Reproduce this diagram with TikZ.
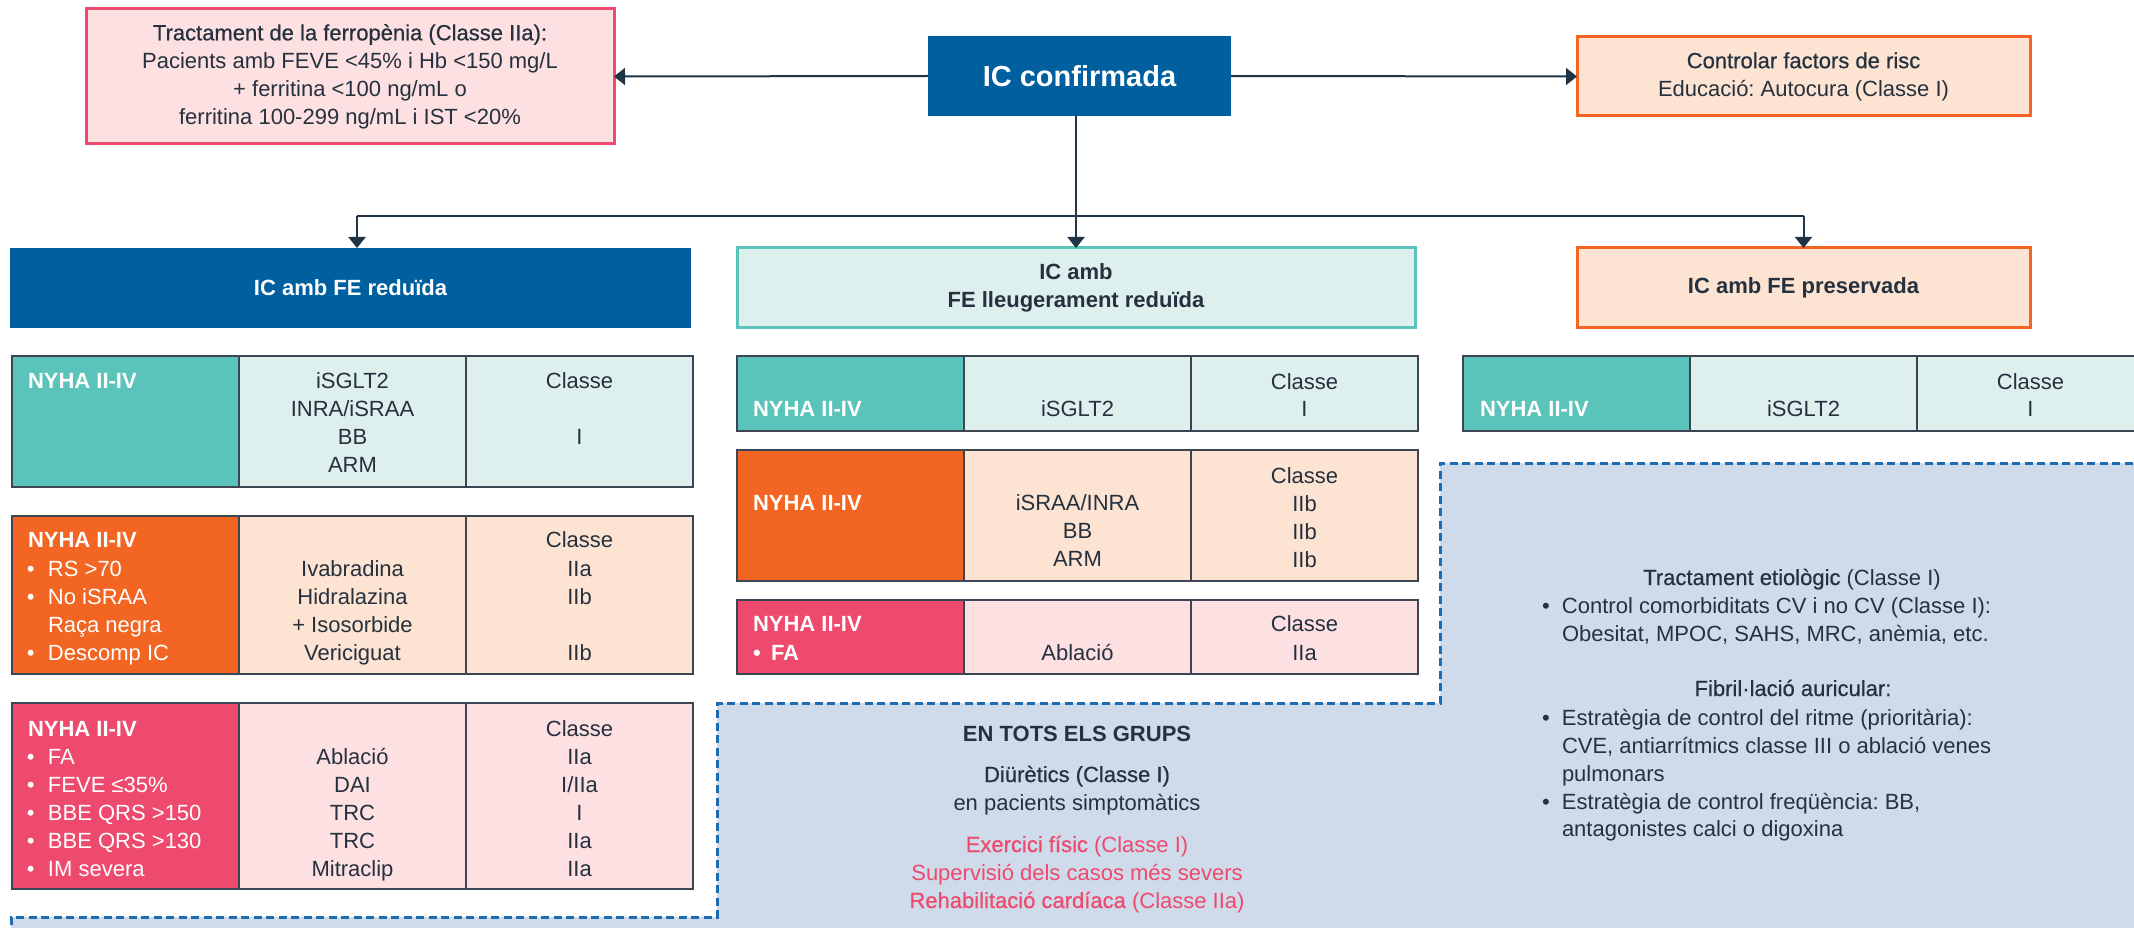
\documentclass[tikz,border=0pt]{standalone}
\usepackage{fontspec}
\setmainfont{Liberation Sans}
\newfontfamily\medfont[FakeBold=0.6]{Liberation Sans}
\usetikzlibrary{arrows.meta}
\frenchspacing
\definecolor{icblue}{HTML}{005F9E}
\definecolor{tealD}{HTML}{5BC4BA}
\definecolor{tealL}{HTML}{DEF0EE}
\definecolor{orangeD}{HTML}{F26522}
\definecolor{orangeL}{HTML}{FDE3D2}
\definecolor{pinkD}{HTML}{EE4A6D}
\definecolor{pinkL}{HTML}{FDE0E1}
\definecolor{dashfill}{HTML}{CFDAEA}
\definecolor{dashline}{HTML}{1D6BB0}
\definecolor{ink}{HTML}{25313E}
\definecolor{linec}{HTML}{1F3447}
\definecolor{cellline}{HTML}{3C4653}
\newcommand\bodysize{\fontsize{22}{28}\selectfont\frenchspacing}
\newcommand\bul[1]{\makebox[#1pt][l]{•}}
\tikzset{
  box/.style={rectangle, inner sep=0pt, outer sep=0pt, anchor=north west, align=center, font=\bodysize, text=ink},
  cellbox/.style={rectangle, inner sep=0pt, outer sep=0pt, anchor=north west, draw=cellline, line width=1.8pt},
  txt/.style={anchor=base, inner sep=0pt, outer sep=0pt, text=ink, font=\bodysize},
  txtl/.style={txt, anchor=base west},
  wtxt/.style={txtl, text=white, font=\bodysize\bfseries},
  wreg/.style={txtl, text=white},
  ptxt/.style={txt, text=pinkD},
  conn/.style={draw=linec, line width=2pt, -{Triangle[length=11pt,width=17pt]}},
  plain/.style={draw=linec, line width=2pt},
}
% #1 name, #2 x0, #3 y0, #4 height, #5 dark colour, #6 light colour
\newcommand\trow[6]{%
  \node[cellbox, fill=#5, minimum width=227pt, minimum height=#4pt] (#1a) at (#2,#3) {};
  \node[cellbox, fill=#6, minimum width=227pt, minimum height=#4pt] (#1b) at ({#2+227},#3) {};
  \node[cellbox, fill=#6, minimum width=227pt, minimum height=#4pt] (#1c) at ({#2+454},#3) {};
}
\begin{document}
\begin{tikzpicture}[x=1pt,y=-1pt]
\fill[white] (0,0) rectangle (2134,928);
\useasboundingbox (0,0) rectangle (2134,928);
\clip (0,0) rectangle (2134,928);

% dashed common area
\fill[dashfill] (1440,463) -- (2145,463) -- (2145,940) -- (11,940) -- (11,917) -- (717,917) -- (717,703) -- (1440,703) -- cycle;
\draw[dashline, line width=3pt, dash pattern=on 8pt off 4.5pt] (2145,463) -- (1440,463) -- (1440,703) -- (717,703) -- (717,917) -- (11,917) -- (11,940);

% top boxes
\node[box, fill=pinkL, draw=pinkD, line width=3pt, minimum width=528pt, minimum height=135pt] (ferro) at (86,9)
  {{\medfont Tractament de la ferropènia (Classe IIa):}\\Pacients amb FEVE <45\% i Hb <150 mg/L\\+ ferritina <100 ng/mL o\\ferritina 100-299 ng/mL i IST <20\%};
\node[box, fill=icblue, minimum width=303pt, minimum height=80pt, text=white, font=\fontsize{29}{34}\selectfont\bfseries] (ic) at (928,36) {IC confirmada};
\node[box, fill=orangeL, draw=orangeD, line width=3pt, minimum width=453pt, minimum height=79pt] (ctrl) at (1577,37)
  {{\medfont Controlar factors de risc}\\Educació: Autocura (Classe I)};

% group headers
\node[box, fill=icblue, minimum width=681pt, minimum height=80pt, text=white, font=\bodysize\bfseries] (red) at (10,248) {IC amb FE reduïda};
\node[box, fill=tealL, draw=tealD, line width=3pt, minimum width=678pt, minimum height=79pt, font=\bodysize\bfseries] (mid) at (737,248) {IC amb\\FE lleugerament reduïda};
\node[box, fill=orangeL, draw=orangeD, line width=3pt, minimum width=453pt, minimum height=79pt, font=\bodysize\bfseries] (pres) at (1577,248) {IC amb FE preservada};

% connectors
\draw[conn] (ic.west) -- (ferro.east);
\draw[conn] (ic.east) -- (ctrl.west);
\draw[conn] (mid.north |- ic.south) -- (mid.north);
\coordinate (hl) at (357,216);
\coordinate (hr) at (pres.north |- hl);
\draw[plain] (hl) -- (hr);
\draw[conn] (hl) -- (hl |- red.north);
\draw[conn] (hr) -- (pres.north);

% ---- left tables
\trow{ta}{12}{356}{131}{tealD}{tealL}
\node[wtxt] (ta1) at (28,388) {NYHA II-IV};
\foreach \t [count=\i] in {iSGLT2, INRA/iSRAA, BB, ARM}
  \node[txt] (tam\i) at (352.5,{360+28*\i}) {\t};
\node[txt] (tac1) at (579.5,388) {Classe};
\node[txt] (tac2) at (579.5,444) {I};

\trow{tb}{12}{516}{158}{orangeD}{orangeL}
\node[wtxt] (tb1) at (28,547) {NYHA II-IV};
\node[wreg] (tb2) at (27,576) {\bul{21}RS >70};
\node[wreg] (tb3) at (27,604) {\bul{21}No iSRAA};
\node[wreg] (tb4) at (48,632) {Raça negra};
\node[wreg] (tb5) at (27,660) {\bul{21}Descomp IC};
\foreach \t [count=\i] in {Ivabradina, Hidralazina, + Isosorbide, Vericiguat}
  \node[txt] (tbm\i) at (352.5,{548+28*\i}) {\t};
\node[txt] (tbc1) at (579.5,547) {Classe};
\node[txt] (tbc2) at (579.5,576) {IIa};
\node[txt] (tbc3) at (579.5,604) {IIb};
\node[txt] (tbc4) at (579.5,660) {IIb};

\trow{tc}{12}{703}{186}{pinkD}{pinkL}
\node[wtxt] (tc1) at (28,736) {NYHA II-IV};
\foreach \t [count=\i] in {FA, FEVE ≤35\%, BBE QRS >150, BBE QRS >130, IM severa}
  \node[wreg] (tcl\i) at (27,{736+28*\i}) {\bul{21}\t};
\foreach \t [count=\i] in {Ablació, DAI, TRC, TRC, Mitraclip}
  \node[txt] (tcm\i) at (352.5,{736+28*\i}) {\t};
\foreach \t [count=\i] in {Classe, IIa, I/IIa, I, IIa, IIa}
  \node[txt] (tcc\i) at (579.5,{708+28*\i}) {\t};

% ---- middle tables
\trow{td}{737}{356}{75}{tealD}{tealL}
\node[wtxt] (td1) at (753,416) {NYHA II-IV};
\node[txt] (tdm) at (1077.5,416) {iSGLT2};
\node[txt] (tdc1) at (1304.5,389) {Classe};
\node[txt] (tdc2) at (1304.5,416) {I};

\trow{te}{737}{450}{131}{orangeD}{orangeL}
\node[wtxt] (te1) at (753,510) {NYHA II-IV};
\foreach \t [count=\i] in {iSRAA/INRA, BB, ARM}
  \node[txt] (tem\i) at (1077.5,{482+28*\i}) {\t};
\foreach \t [count=\i] in {Classe, IIb, IIb, IIb}
  \node[txt] (tec\i) at (1304.5,{455+28*\i}) {\t};

\trow{tf}{737}{600}{74}{pinkD}{pinkL}
\node[wtxt] (tf1) at (753,631) {NYHA II-IV};
\node[wtxt] (tf2) at (753,660) {\bul{18}FA};
\node[txt] (tfm) at (1077.5,660) {Ablació};
\node[txt] (tfc1) at (1304.5,631) {Classe};
\node[txt] (tfc2) at (1304.5,660) {IIa};

% ---- right table
\trow{tg}{1463}{356}{75}{tealD}{tealL}
\node[wtxt] (tg1) at (1480,416) {NYHA II-IV};
\node[txt] (tgm) at (1803.5,416) {iSGLT2};
\node[txt] (tgc1) at (2030.5,389) {Classe};
\node[txt] (tgc2) at (2030.5,416) {I};

% ---- common area texts (left part)
\node[txt, font=\bodysize\bfseries] (g1) at (1077,741) {EN TOTS ELS GRUPS};
\node[txt, font=\bodysize\medfont] (g2) at (1077,782) {Diürètics (Classe I)};
\node[txt] (g3) at (1077,810) {en pacients simptomàtics};
\node[ptxt] (g4) at (1077,852) {{\medfont Exercici físic} (Classe I)};
\node[ptxt] (g5) at (1077,880) {Supervisió dels casos més severs};
\node[ptxt] (g6) at (1077,908) {{\medfont Rehabilitació cardíaca} (Classe IIa)};

% ---- common area texts (right part)
\node[txt] (e1) at (1792,585) {{\medfont Tractament etiològic} (Classe I)};
\node[txtl] (e2) at (1542,613) {\bul{20}Control comorbiditats CV i no CV (Classe I):};
\node[txtl] (e3) at (1562,641) {Obesitat, MPOC, SAHS, MRC, anèmia, etc.};
\node[txt, font=\bodysize\medfont] (f1) at (1793,696) {Fibril·lació auricular:};
\node[txtl] (f2) at (1542,725) {\bul{20}Estratègia de control del ritme (prioritària):};
\node[txtl] (f3) at (1562,753) {CVE, antiarrítmics classe III o ablació venes};
\node[txtl] (f4) at (1562,781) {pulmonars};
\node[txtl] (f5) at (1542,809) {\bul{20}Estratègia de control freqüència: BB,};
\node[txtl] (f6) at (1562,836) {antagonistes calci o digoxina};
\end{tikzpicture}
\end{document}
